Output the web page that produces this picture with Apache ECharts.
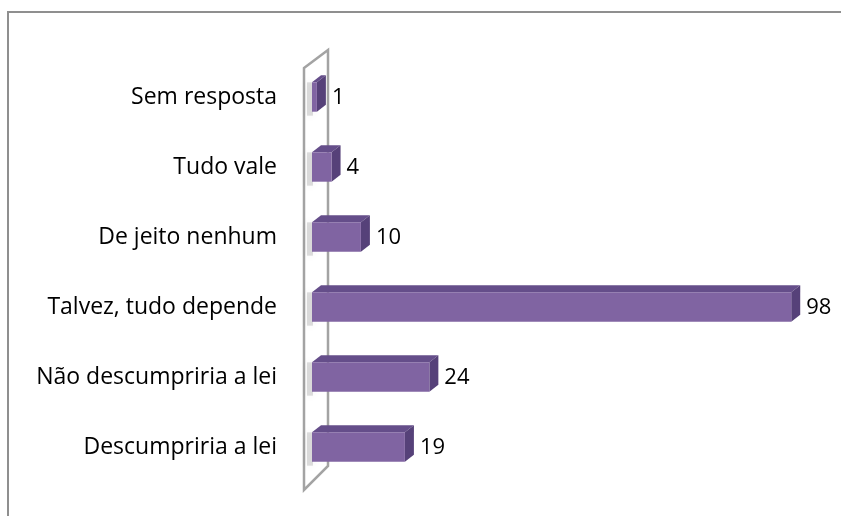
<!DOCTYPE html>
<html>
<head>
<meta charset="utf-8">
<script src="https://cdn.jsdelivr.net/npm/echarts@6/dist/echarts.min.js"></script>
<style>
  html, body { margin: 0; padding: 0; background: #fff; overflow: hidden; }
  #chart { width: 841px; height: 516px; }
</style>
</head>
<body>
<div id="chart"></div>
<script>
const categories = ['Descumpriria a lei', 'Não descumpriria a lei', 'Talvez, tudo depende', 'De jeito nenhum', 'Tudo vale', 'Sem resposta'];
const values = [19, 24, 98, 10, 4, 1];

const DX = 9, DY = -7;
const FONT = '"Open Sans", Lato, sans-serif';

function renderBar(params, api) {
    const v = api.value(0);
    const cat = api.value(1);
    const start = api.coord([0, cat]);
    const end = api.coord([v, cat]);
    const h = api.size([0, 1])[1] * 0.42;
    const x0 = start[0], x1 = end[0];
    const top = start[1] - h / 2, bot = start[1] + h / 2;
    return {
        type: 'group',
        children: [
            {
                // soft shadow on the wall
                type: 'rect',
                shape: { x: x0 - 5, y: top, width: 6, height: h + 4 },
                style: { fill: 'rgba(0,0,0,0.12)', shadowBlur: 9, shadowColor: 'rgba(0,0,0,0.5)' },
                silent: true
            },
            {
                type: 'polygon',
                shape: { points: [[x0, top], [x0 + DX, top + DY], [x1 + DX, top + DY], [x1, top]] },
                style: { fill: '#654e8a' }
            },
            {
                type: 'polygon',
                shape: { points: [[x1, top], [x1 + DX, top + DY], [x1 + DX, bot + DY], [x1, bot]] },
                style: { fill: '#564179' }
            },
            {
                type: 'rect',
                shape: { x: x0, y: top, width: x1 - x0, height: h },
                style: { fill: '#8064a2' }
            },
            {
                type: 'text',
                style: {
                    x: x1 + DX + 6, y: start[1] + 1,
                    text: String(v),
                    fill: '#000', fontSize: 22, fontFamily: FONT,
                    verticalAlign: 'middle', align: 'left'
                }
            }
        ]
    };
}

const chart = echarts.init(document.getElementById('chart'));
chart.setOption({
    animation: false,
    backgroundColor: '#fff',
    grid: { left: 312, right: 40, top: 62, bottom: 34 },
    xAxis: { type: 'value', min: 0, max: 100, show: false },
    yAxis: {
        type: 'category',
        data: categories,
        axisLine: { show: false },
        axisTick: { show: false },
        splitLine: { show: false },
        axisLabel: { color: '#000', fontSize: 23, fontFamily: FONT, margin: 35 }
    },
    graphic: [
        {
            // outer chart frame (only top and left edges are inside the picture)
            type: 'polyline', z: 0,
            shape: { points: [[8, 600], [8, 12], [900, 12]] },
            style: { fill: null, stroke: '#8f8f8f', lineWidth: 2 }
        },
        {
            type: 'polygon', z: 1,
            shape: { points: [[304, 68], [328, 50], [328, 466], [304, 490]] },
            style: { fill: '#fff', stroke: '#a3a3a3', lineWidth: 2.5 }
        }
    ],
    series: [{
        type: 'custom',
        z: 5,
        renderItem: renderBar,
        encode: { x: 0, y: 1 },
        data: values.map((v, i) => [v, i])
    }]
});
</script>
</body>
</html>
